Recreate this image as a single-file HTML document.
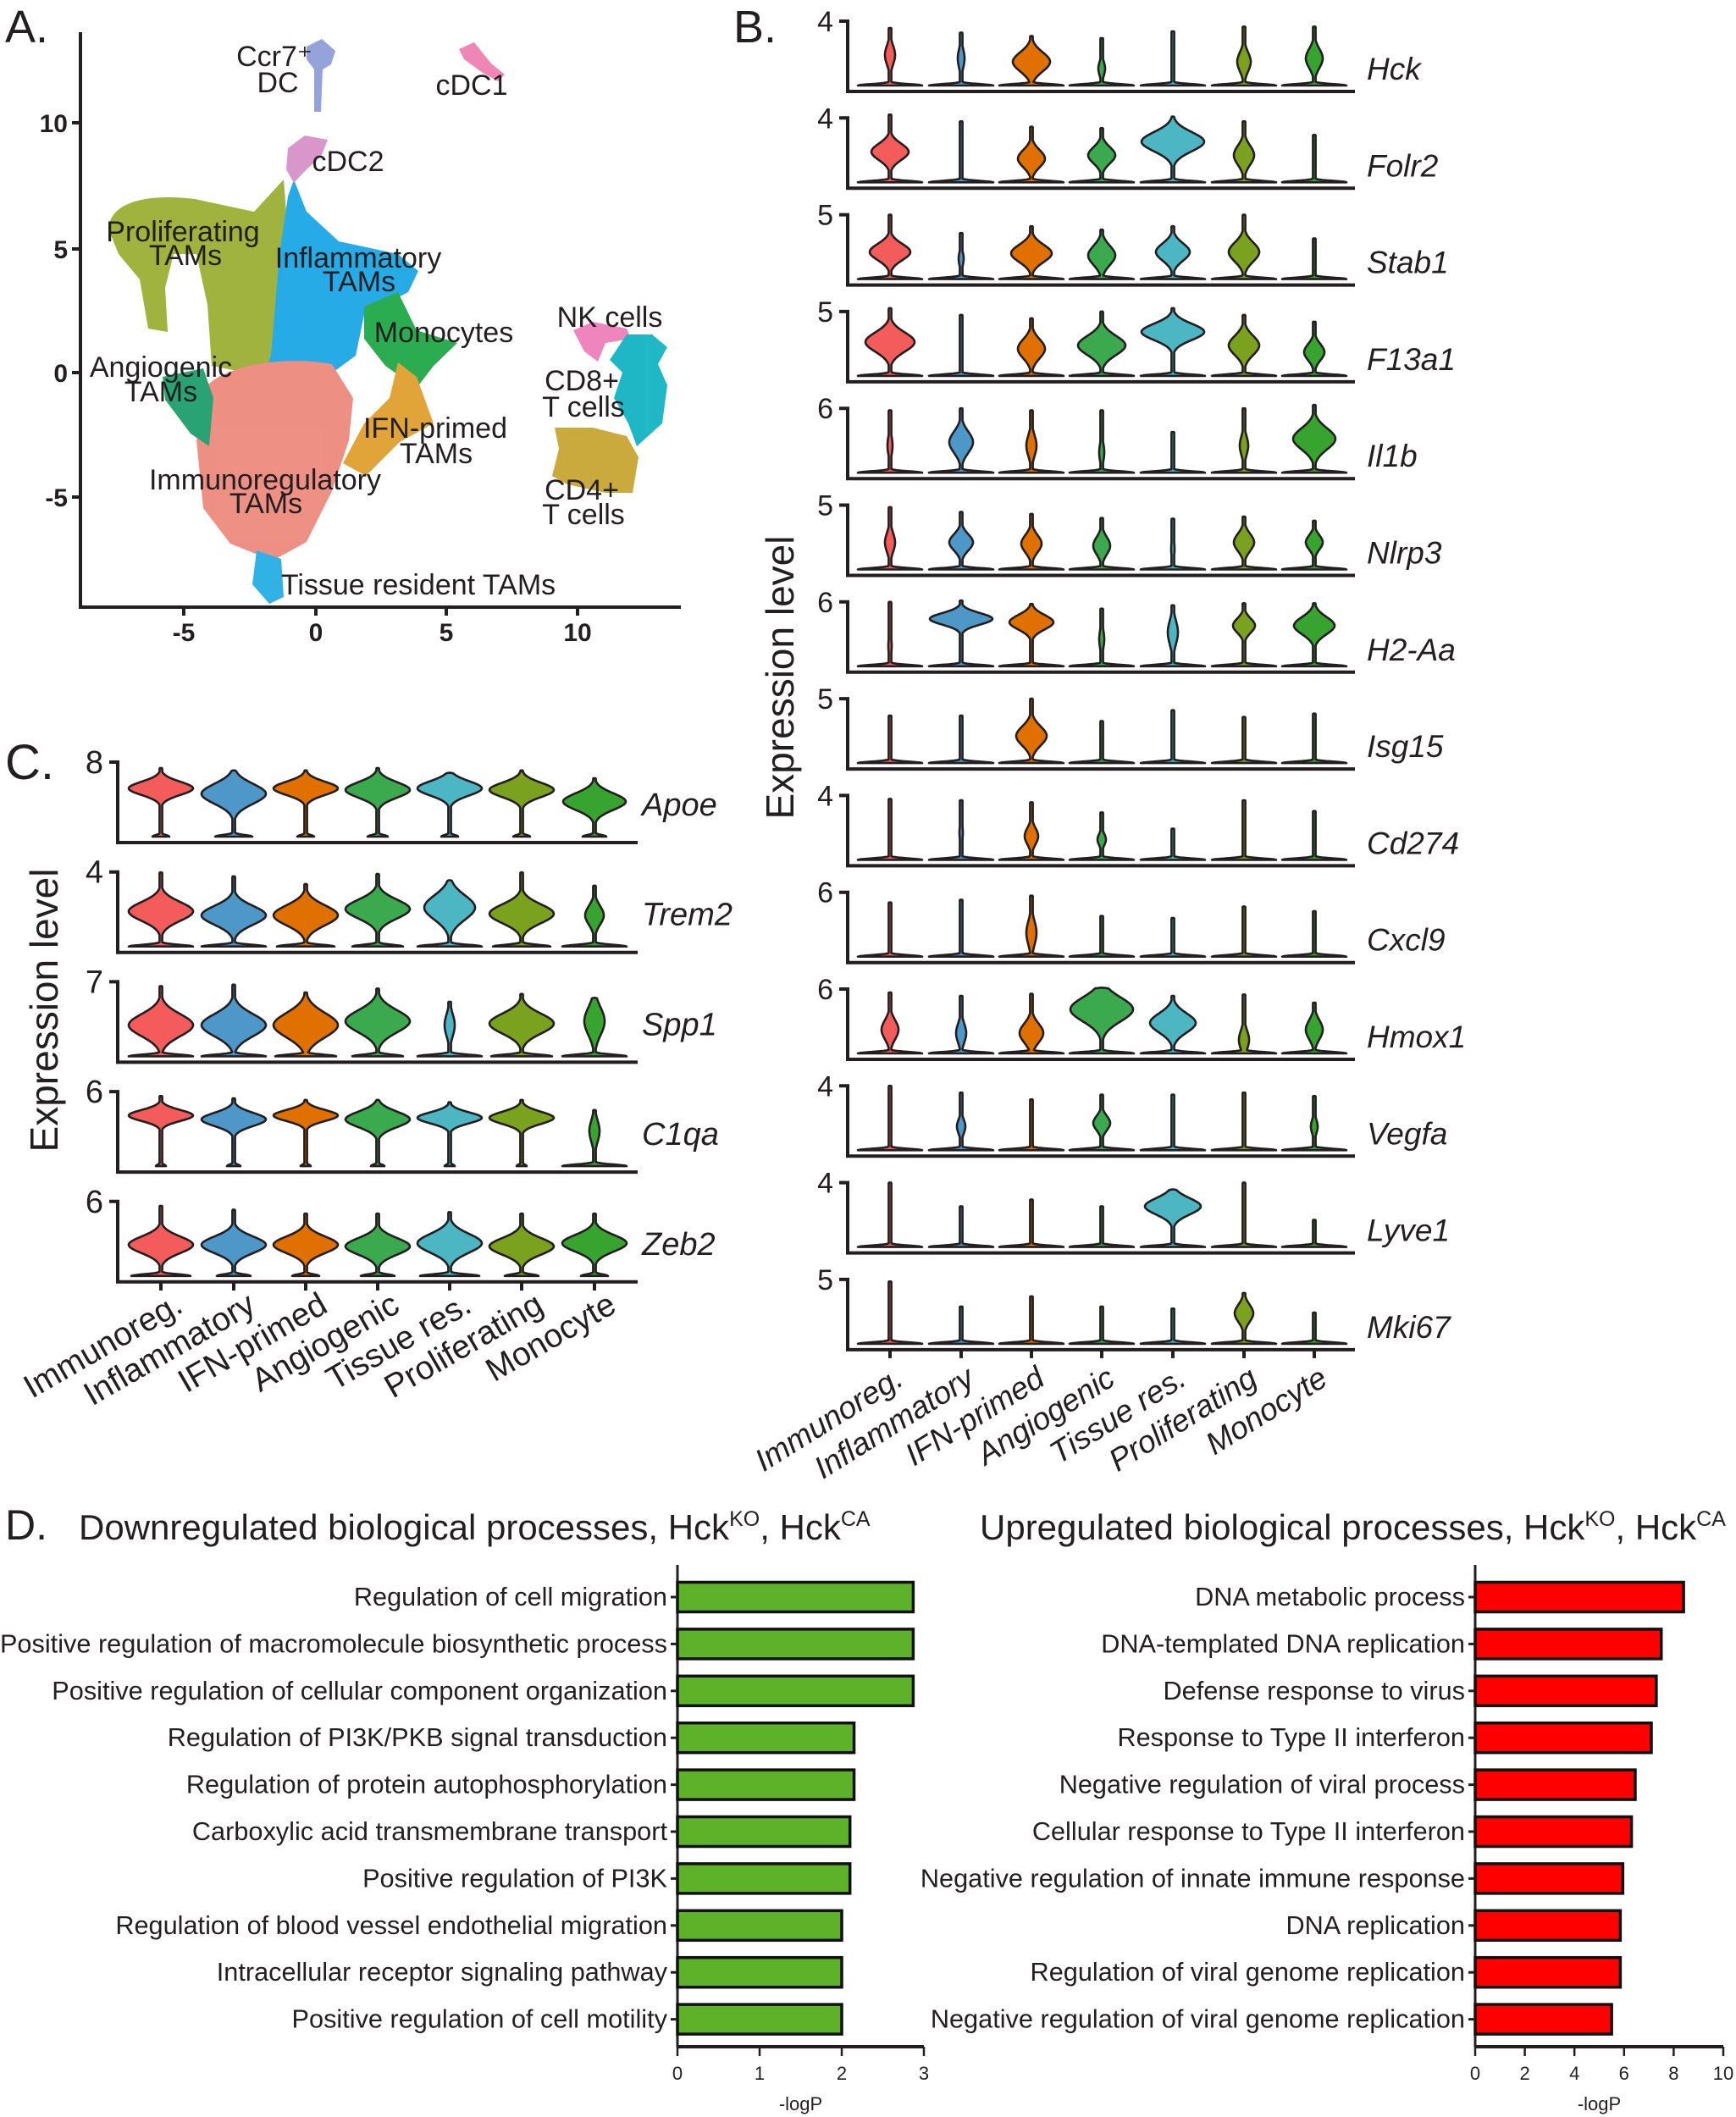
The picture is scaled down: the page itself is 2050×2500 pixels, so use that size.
<!DOCTYPE html>
<html><head><meta charset="utf-8">
<style>
html,body{margin:0;padding:0;background:#fff;}
svg{display:block;}
text{font-family:"Liberation Sans",Arial,sans-serif;fill:#231f20;}
</style></head>
<body>
<svg id="s" width="2050" height="2500" viewBox="0 0 2050 2500" xmlns="http://www.w3.org/2000/svg">
<rect width="2050" height="2500" fill="#fff"/>
<text x="6" y="50" font-size="54">A.</text>
<g id="scat" opacity="0.95">
<path fill="#9BAF34" d="M128,270 C130,240 170,228 230,235 L300,250 L335,212 L338,250 L332,330 L332,420 L300,442 L250,432 L245,360 L232,300 L205,300 L195,340 L198,392 L175,388 L165,330 L140,300 Z"/>
<path fill="#1BA7E6" d="M340,232 L347,212 L362,250 L400,285 L470,300 L494,320 L482,345 L430,372 L420,420 L390,442 L330,480 L300,472 L320,420 L330,300 Z"/>
<path fill="#EE8A7E" d="M245,455 C270,430 340,420 392,430 L417,470 L412,520 L392,580 L362,640 L322,662 L272,642 L240,600 L232,520 Z"/>
<path fill="#1E9F6C" d="M192,445 L240,435 L252,470 L247,527 L225,512 L195,472 Z"/>
<path fill="#20A848" d="M430,362 L470,345 L492,390 L540,405 L512,432 L492,458 L455,432 L430,400 Z"/>
<path fill="#DFA02F" d="M470,428 L492,445 L512,500 L472,522 L432,562 L405,547 L430,500 L460,470 Z"/>
<path fill="#26AEE3" d="M303,650 L332,660 L335,705 L318,713 L298,690 Z"/>
<path fill="#8E9FD8" d="M362,55 L380,46 L396,60 L391,76 L381,82 L379,132 L371,132 L371,82 L362,70 Z"/>
<path fill="#D691C8" d="M340,175 L360,160 L387,165 L379,185 L362,200 L347,216 L338,200 Z"/>
<path fill="#EE80B1" d="M542,58 L560,50 L580,75 L596,88 L588,96 L570,86 L548,70 Z"/>
<path fill="#EE7FB9" d="M677,390 L700,380 L740,388 L745,400 L715,405 L706,427 L690,415 Z"/>
<path fill="#14B4C3" d="M740,395 L770,395 L788,410 L777,430 L788,455 L782,500 L752,527 L742,500 L725,470 L735,440 L720,425 Z"/>
<path fill="#C8A533" d="M655,505 L700,505 L740,515 L754,540 L747,582 L715,582 L670,572 L652,562 L660,530 Z"/>
</g>
<g font-size="34">
<text x="324" y="78" text-anchor="middle">Ccr7⁺</text>
<text x="328" y="109" text-anchor="middle">DC</text>
<text x="557" y="112" text-anchor="middle">cDC1</text>
<text x="411" y="202" text-anchor="middle">cDC2</text>
<text x="216" y="285" text-anchor="middle">Proliferating</text>
<text x="219" y="313" text-anchor="middle">TAMs</text>
<text x="423" y="316" text-anchor="middle">Inflammatory</text>
<text x="424" y="344" text-anchor="middle">TAMs</text>
<text x="524" y="404" text-anchor="middle">Monocytes</text>
<text x="190" y="445" text-anchor="middle">Angiogenic</text>
<text x="190" y="474" text-anchor="middle">TAMs</text>
<text x="514" y="517" text-anchor="middle">IFN-primed</text>
<text x="515" y="547" text-anchor="middle">TAMs</text>
<text x="313" y="578" text-anchor="middle">Immunoregulatory</text>
<text x="314" y="606" text-anchor="middle">TAMs</text>
<text x="494" y="702" text-anchor="middle">Tissue resident TAMs</text>
<text x="720" y="386" text-anchor="middle">NK cells</text>
<text x="687" y="461" text-anchor="middle">CD8+</text>
<text x="689" y="492" text-anchor="middle">T cells</text>
<text x="687" y="590" text-anchor="middle">CD4+</text>
<text x="689" y="619" text-anchor="middle">T cells</text>
</g>
<path d="M95,38 V717 H804" fill="none" stroke="#231f20" stroke-width="4"/>
<g stroke="#231f20" stroke-width="4">
<line x1="217" y1="717" x2="217" y2="727"/><line x1="373" y1="717" x2="373" y2="727"/>
<line x1="527" y1="717" x2="527" y2="727"/><line x1="682" y1="717" x2="682" y2="727"/>
<line x1="85" y1="145" x2="95" y2="145"/><line x1="85" y1="294" x2="95" y2="294"/>
<line x1="85" y1="440" x2="95" y2="440"/><line x1="85" y1="587" x2="95" y2="587"/>
</g>
<g font-size="30" font-weight="bold">
<text x="217" y="757" text-anchor="middle">-5</text><text x="373" y="757" text-anchor="middle">0</text>
<text x="527" y="757" text-anchor="middle">5</text><text x="682" y="757" text-anchor="middle">10</text>
<text x="80" y="156" text-anchor="end">10</text><text x="80" y="305" text-anchor="end">5</text>
<text x="80" y="451" text-anchor="end">0</text><text x="80" y="598" text-anchor="end">-5</text>
</g>
<text x="866" y="50" font-size="54">B.</text>
<text transform="translate(937,800) rotate(-90)" font-size="46" text-anchor="middle">Expression level</text>
<text x="6" y="920" font-size="58">C.</text>
<text transform="translate(68,1193) rotate(-90)" font-size="46" text-anchor="middle">Expression level</text>
<g id="dyn"></g>
<text x="6" y="1818" font-size="50">D.</text>
<text x="93" y="1818" font-size="42">Downregulated biological processes, Hck<tspan font-size="25" dy="-16">KO</tspan><tspan dy="16">, Hck</tspan><tspan font-size="25" dy="-16">CA</tspan></text>
<text x="1157" y="1818" font-size="42">Upregulated biological processes, Hck<tspan font-size="25" dy="-16">KO</tspan><tspan dy="16">, Hck</tspan><tspan font-size="25" dy="-16">CA</tspan></text>
</svg>
<script>
var NS="http://www.w3.org/2000/svg",g=document.getElementById("dyn");
function el(t,a,txt){var e=document.createElementNS(NS,t);for(var k in a)e.setAttribute(k,a[k]);if(txt!=null)e.textContent=txt;g.appendChild(e);return e;}
var COL=["#F45B5B","#4E97C9","#E07000","#3BAA4F","#4CB6C2","#7BA21F","#36A42E"];
function violin(cx,by,H,p,col){
 var w=p[0],c=p[1],s=p[2],t=p[3],hb=(p[4]==null?38:p[4]);
 var R=[],L=[];
 for(var i=0;i<=100;i++){var y=t*i/100;
  var hw=Math.max(w>0?w*Math.exp(-Math.pow((y-c)/s,2)):0, hb*Math.exp(-Math.pow(y/0.03,2)), 1.6);
  if(i==100)hw=1.2;
  R.push((cx+hw).toFixed(1)+","+(by-y*H).toFixed(1));L.unshift((cx-hw).toFixed(1)+","+(by-y*H).toFixed(1));}
 el("polygon",{points:R.concat(L).join(" "),fill:col,stroke:"#231f20","stroke-width":"2.6","stroke-linejoin":"round"});
}
var BX=[1051,1135,1218,1301,1385,1469,1552];
var Bg=["Hck","Folr2","Stab1","F13a1","Il1b","Nlrp3","H2-Aa","Isg15","Cd274","Cxcl9","Hmox1","Vegfa","Lyve1","Mki67"];
var Bt=["4","4","5","5","6","5","6","5","4","6","6","4","4","5"];
var L0=function(t){return [0,0,1,t,38];};
var Bd=[
[[6,.45,.2,.85],[4,.4,.2,.78],[22,.35,.2,.73],[4,.25,.15,.7],L0(.8),[8,.35,.2,.87],[10,.4,.2,.87]],
[[22,.45,.17,1],L0(.9),[16,.35,.18,.82],[16,.4,.17,.8],[37,.6,.2,.97],[12,.4,.2,.9],L0(.7)],
[[24,.4,.17,.95],[3,.3,.15,.68],[24,.38,.18,.78],[16,.35,.2,.73],[20,.4,.18,.78],[18,.4,.2,.95],L0(.6)],
[[29,.5,.2,1],L0(.9),[16,.4,.2,.85],[28,.45,.2,.95],[37,.65,.17,1],[18,.45,.2,.9],[12,.35,.17,.8]],
[[3,.4,.2,.92],[14,.45,.22,.95],[6,.4,.22,.92],[3,.3,.2,.92],L0(.6),[5,.4,.2,.95],[25,.5,.22,1]],
[[6,.4,.2,.92],[14,.4,.17,.85],[12,.38,.18,.82],[10,.35,.18,.76],[2,.3,.2,.75],[12,.4,.18,.78],[10,.4,.15,.72]],
[[2,.3,.2,.95],[37,.7,.12,.97],[26,.65,.15,.92],[3,.4,.2,.85],[6,.5,.25,.9],[13,.6,.15,.93],[24,.6,.18,.93]],
[L0(.7),L0(.7),[18,.4,.2,.95],L0(.62),L0(.78),L0(.68),L0(.73)],
[L0(.9),[2,.4,.2,.88],[8,.35,.17,.85],[5,.3,.12,.7],L0(.46),L0(.88),L0(.72)],
[L0(.8),L0(.84),[6,.35,.25,.9],L0(.6),L0(.57),L0(.74),L0(.67)],
[[10,.35,.2,.9],[6,.3,.2,.85],[14,.3,.2,.88],[37,.65,.25,.97],[27,.45,.2,.85],[6,.2,.2,.87],[10,.35,.2,.75]],
[L0(.95),[5,.35,.15,.85],L0(.75),[10,.4,.15,.82],L0(.82),L0(.85),[4,.35,.15,.8]],
[L0(.95),L0(.6),L0(.7),L0(.6),[33,.6,.17,.85],L0(.95),L0(.4)],
[L0(.92),L0(.55),L0(.7),L0(.55),L0(.52),[11,.45,.18,.75],L0(.46)]
];
for(var r=0;r<14;r++){
 var by=108+114.3*r;
 el("path",{d:"M991,"+(by-83)+" H1001 V"+by+" H1600",fill:"none",stroke:"#231f20","stroke-width":"4"});
 el("text",{x:984,y:by-71,"font-size":"34","text-anchor":"end"},Bt[r]);
 el("text",{x:1614,y:by-14,"font-size":"37","font-style":"italic"},Bg[r]);
 for(var j=0;j<7;j++)violin(BX[j],by-7,80,Bd[r][j],COL[j]);
}
var cats=["Immunoreg.","Inflammatory","IFN-primed","Angiogenic","Tissue res.","Proliferating","Monocyte"];
for(var j=0;j<7;j++){
 el("line",{x1:BX[j],y1:by,x2:BX[j],y2:by+10,stroke:"#231f20","stroke-width":"4"});
 el("text",{transform:"translate("+(BX[j]+18)+",1634) rotate(-32)","font-size":"37","font-style":"italic","text-anchor":"end"},cats[j]);
}
var CX=[190,276,361,446,531,616,702];
var Cg=["Apoe","Trem2","Spp1","C1qa","Zeb2"],Ct=["8","4","7","6","6"];
var Cd=[
[[38,.62,.12,.88,10],[38,.55,.18,.85,22],[38,.62,.12,.85,10],[38,.6,.14,.88,12],[38,.62,.13,.82,10],[38,.6,.13,.85,10],[37,.45,.15,.75,14]],
[[38,.45,.17,.95,38],[38,.4,.17,.9,38],[38,.4,.18,.8,34],[38,.48,.17,.93,30],[30,.5,.22,.85,38],[38,.42,.17,.95,34],[11,.4,.17,.78,38]],
[[38,.4,.2,.9,38],[38,.4,.2,.92,38],[38,.4,.22,.82,36],[38,.45,.2,.87,30],[6,.4,.2,.7,38],[38,.42,.18,.8,36],[12,.45,.25,.75,38]],
[[38,.65,.1,.9,6],[38,.6,.12,.87,8],[38,.65,.1,.85,6],[38,.6,.14,.85,8],[38,.62,.1,.82,6],[38,.62,.11,.85,6],[6,.45,.2,.72,38]],
[[38,.4,.15,.9,35],[38,.4,.15,.85,20],[38,.4,.15,.8,16],[38,.38,.15,.8,20],[38,.42,.17,.82,35],[38,.38,.15,.8,20],[38,.42,.15,.8,16]]
];
for(var r=0;r<5;r++){
 var by=995+129.7*r;
 el("path",{d:"M129,"+(by-95)+" H139 V"+by+" H753",fill:"none",stroke:"#231f20","stroke-width":"4"});
 el("text",{x:122,y:by-82,"font-size":"38","text-anchor":"end"},Ct[r]);
 el("text",{x:758,y:by-32,"font-size":"38","font-style":"italic"},Cg[r]);
 for(var j=0;j<7;j++)violin(CX[j],by-7,92,Cd[r][j],COL[j]);
}
for(var j=0;j<7;j++){
 el("line",{x1:CX[j],y1:1514,x2:CX[j],y2:1524,stroke:"#231f20","stroke-width":"4"});
 el("text",{transform:"translate("+(CX[j]+28)+",1548) rotate(-30)","font-size":"39","text-anchor":"end"},cats[j]);
}
function bars(ax,unit,max,ticks,vals,labs,col){
 el("line",{x1:ax,y1:1848,x2:ax,y2:2417,stroke:"#231f20","stroke-width":"3"});
 el("line",{x1:ax,y1:2417,x2:ax+unit*max,y2:2417,stroke:"#231f20","stroke-width":"4"});
 for(var i=0;i<ticks.length;i++){var x=ax+unit*ticks[i];
  el("line",{x1:x,y1:2417,x2:x,y2:2428,stroke:"#231f20","stroke-width":"2.5"});
  el("text",{x:x,y:2456,"font-size":"22","text-anchor":"middle"},ticks[i]);}
 el("text",{x:ax+unit*max/2,y:2492,"font-size":"22","text-anchor":"middle"},"-logP");
 for(var i=0;i<10;i++){var cy=1886+55.4*i;
  el("rect",{x:ax,y:cy-17.5,width:unit*vals[i],height:35,fill:col,stroke:"#111","stroke-width":"3.5"});
  el("line",{x1:ax-8,y1:cy,x2:ax,y2:cy,stroke:"#231f20","stroke-width":"3"});
  el("text",{x:ax-12,y:cy+10,"font-size":"30.7","text-anchor":"end"},labs[i]);}
}
bars(800,97,3,[0,1,2,3],[2.87,2.87,2.87,2.15,2.15,2.1,2.1,2.0,2.0,2.0],
["Regulation of cell migration","Positive regulation of macromolecule biosynthetic process","Positive regulation of cellular component organization","Regulation of PI3K/PKB signal transduction","Regulation of protein autophosphorylation","Carboxylic acid transmembrane transport","Positive regulation of PI3K","Regulation of blood vessel endothelial migration","Intracellular receptor signaling pathway","Positive regulation of cell motility"],"#5DB22A");
bars(1742,29.3,10,[0,2,4,6,8,10],[8.4,7.5,7.3,7.1,6.45,6.3,5.95,5.85,5.85,5.5],
["DNA metabolic process","DNA-templated DNA replication","Defense response to virus","Response to Type II interferon","Negative regulation of viral process","Cellular response to Type II interferon","Negative regulation of innate immune response","DNA replication","Regulation of viral genome replication","Negative regulation of viral genome replication"],"#FF0000");
</script>
</body></html>
